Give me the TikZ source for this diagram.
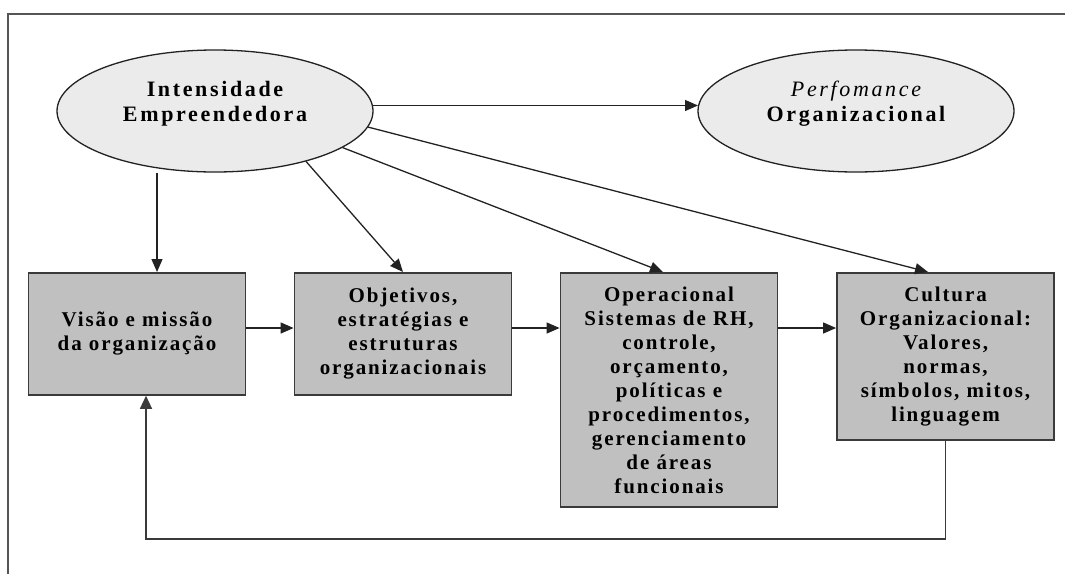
\documentclass[tikz,border=0pt]{standalone}
\usepackage{fontspec}
\setmainfont{Liberation Serif}
\newfontfamily\efont{Liberation Serif}[LetterSpace=12]
\newfontfamily\bfont{Liberation Serif}[LetterSpace=9]
\usetikzlibrary{shapes.geometric,arrows.meta,calc}
\definecolor{ellfill}{HTML}{EBEBEB}
\definecolor{boxfill}{HTML}{C0C0C0}
\definecolor{linecol}{HTML}{222222}
\definecolor{boxline}{HTML}{3A3A3A}
\definecolor{framecol}{HTML}{555555}
\begin{document}
\begin{tikzpicture}[x=1pt,y=-1pt,
  ell/.style={ellipse,draw=linecol,line width=1.3pt,fill=ellfill,minimum width=316pt,minimum height=122pt,inner sep=0pt},
  etxt/.style={align=center,font=\efont\fontsize{22}{25}\selectfont,inner sep=0pt},
  stepbox/.style={rectangle,draw=boxline,line width=1.8pt,fill=boxfill,minimum width=217pt,anchor=north,align=center,inner sep=2pt,font=\bfont\bfseries\fontsize{21}{24}\selectfont},
  arr/.style={draw=linecol,line width=1.3pt,-{Triangle[length=13pt,width=11pt]}},
  fb/.style={draw=boxline,line width=1.5pt,-{Triangle[length=13pt,width=12pt]}},
  framel/.style={draw=framecol,line width=1.5pt}]
\useasboundingbox (0,0) rectangle (1065,574);
% frame
\draw[framel] (8,574) -- (8,14) -- (1065,14);
% ellipses
\node[ell] (e1) at (215,111) {};
\node[etxt] (e1t) at (215,104) {\bfseries Intensidade\\\bfseries Empreendedora};
\node[ell] (e2) at (856,111) {};
\node[etxt] (e2t) at (856,104) {\itshape Perfomance\\\bfseries Organizacional};
% boxes
\node[stepbox,minimum height=122pt] (b1) at (137,272) {Visão e missão\\da organização};
\node[stepbox,minimum height=122pt] (b2) at (403,272) {Objetivos,\\estratégias e\\estruturas\\organizacionais};
\node[stepbox,minimum height=234pt] (b3) at (669,272) {Operacional\\Sistemas de RH,\\controle,\\orçamento,\\políticas e\\procedimentos,\\gerenciamento\\de áreas\\funcionais};
\node[stepbox,minimum height=167pt] (b4) at (945.5,272) {Cultura\\Organizacional:\\Valores,\\normas,\\símbolos, mitos,\\linguagem};
% helper coordinates
\coordinate (v1) at (157,0);
\coordinate (ay) at (0,328);
\coordinate (fbl) at (146,539);
% connectors
\draw[arr] (e1.2) -- (e2.178);
\draw[arr] (e1.south -| v1) -- (b1.north -| v1);
\draw[arr] (e1.-29) -- (b2.north);
\draw[arr] (e1.-16) -- ($(b3.north)+(-6,0)$);
\draw[arr] (e1.-6) -- ($(b4.north)+(-17.5,0)$);
\draw[arr] (b1.east |- ay) -- (b2.west |- ay);
\draw[arr] (b2.east |- ay) -- (b3.west |- ay);
\draw[arr] (b3.east |- ay) -- (b4.west |- ay);
\draw[fb] (b4.south) |- (fbl) -- (b1.south -| fbl);
\end{tikzpicture}
\end{document}
